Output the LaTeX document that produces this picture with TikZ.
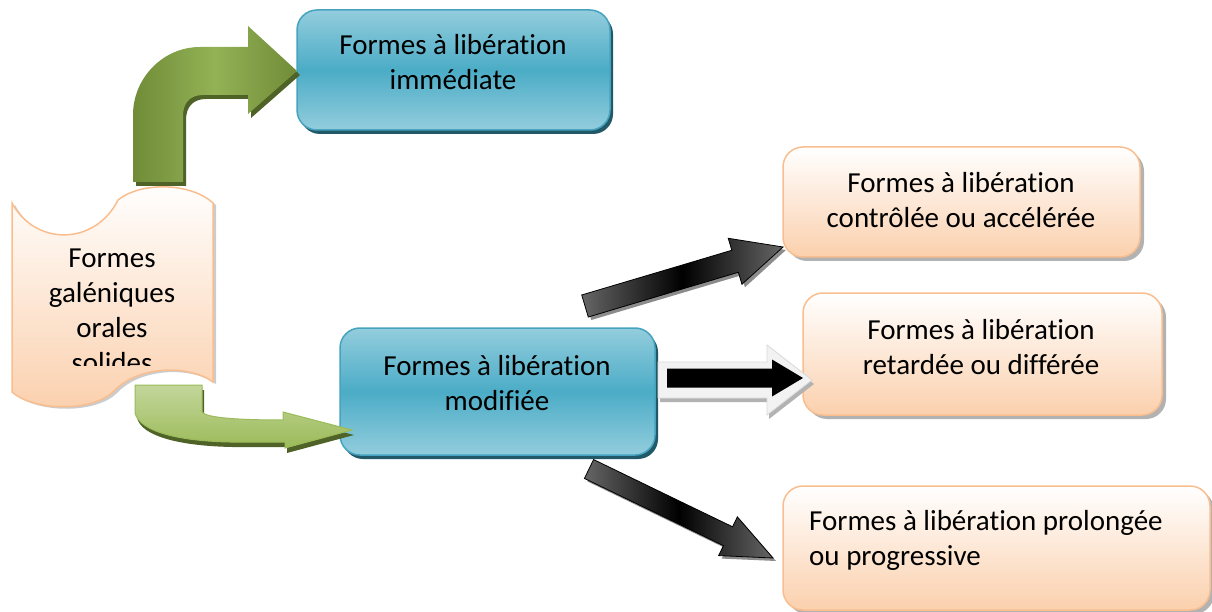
\documentclass[tikz,border=0pt]{standalone}
\usepackage{fontspec}
\setmainfont{Carlito}[Ligatures={NoCommon,NoDiscretionary,NoContextual}]
\usetikzlibrary{calc,shadows}
\definecolor{bluemid}{HTML}{4BACC6}
\definecolor{bluelight}{HTML}{93CDDD}
\definecolor{blueborder}{HTML}{46A3BF}
\definecolor{blueshadow}{HTML}{215968}
\definecolor{peach}{HTML}{FBD0AD}
\definecolor{peachborder}{HTML}{F9BE8F}
\definecolor{greendark}{HTML}{708C38}
\definecolor{greenmid}{HTML}{93B255}
\definecolor{greenlight}{HTML}{C3D69B}
\definecolor{greenbase}{HTML}{9BBB59}
\definecolor{greenshadow}{HTML}{4F6228}
\newcommand{\blockarr}[6]{%
  \coordinate (bh) at ($(#3)!#6pt!(#2)$);
  \path[#1] ($(#2)!#4pt!90:(#3)$) -- ($(bh)!#4pt!90:(#3)$) -- ($(bh)!#5pt!90:(#3)$) -- (#3)
    -- ($(bh)!#5pt!-90:(#3)$) -- ($(bh)!#4pt!-90:(#3)$) -- ($(#2)!#4pt!-90:(#3)$) -- cycle;}
\begin{document}
\begin{tikzpicture}[x=1pt,y=-1pt,
  bluebox/.style={rectangle, rounded corners=20pt, draw=blueborder, line width=1.5pt,
    top color=bluelight, bottom color=bluelight, middle color=bluemid, inner sep=0pt,
    drop shadow={shadow xshift=3pt, shadow yshift=-4pt, fill=blueshadow, opacity=1}},
  peachbox/.style={rectangle, rounded corners=20pt, draw=peachborder, line width=1.5pt,
    top color=white, bottom color=peach, inner sep=0pt,
    drop shadow={shadow xshift=4pt, shadow yshift=-4pt, fill=black!30, opacity=1}},
  txt/.style={font=\fontsize{29}{35}\selectfont, align=center, inner sep=0pt},
  blackarrow/.style={draw=black, line width=0.8pt, left color=black!60, right color=black!60, middle color=black},
  arrowshadow/.style={fill=black!45, transform canvas={shift={(3pt,-3pt)}}},
]
\useasboundingbox (0,0) rectangle (1212,612);

% ---- scroll shape (left)
\path[draw=peachborder, line width=1.5pt, top color=white, bottom color=peach,
  drop shadow={shadow xshift=3pt, shadow yshift=-2pt, fill=black!20, opacity=1}]
  (12,203) .. controls (35,246) and (95,246) .. (118,200)
  .. controls (140,182) and (190,182) .. (213,203)
  -- (213,382)
  .. controls (190,365) and (140,365) .. (115,390)
  .. controls (95,412) and (35,412) .. (12,392) -- cycle;
\begin{scope}
  \clip (0,180) rectangle (230,365);
  \node[txt] (scr) at (112,311) {Formes\\galéniques\\orales\\solides};
\end{scope}

% ---- boxes
\node[bluebox, minimum width=313pt, minimum height=120pt] (T1) at (453.5,70) {};
\node[txt] (t1) at (453,62) {Formes à libération\\immédiate};
\node[bluebox, minimum width=315pt, minimum height=127pt] (M) at (497.5,391.5) {};
\node[txt] (m) at (497,383) {Formes à libération\\modifiée};
\node[peachbox, minimum width=357pt, minimum height=110pt] (R1) at (961.5,202) {};
\node[txt] (r1) at (961,200) {Formes à libération\\contrôlée ou accélérée};
\node[peachbox, minimum width=359pt, minimum height=122pt] (R2) at (982.5,354) {};
\node[txt] (r2) at (981,347) {Formes à libération\\retardée ou différée};
\node[peachbox, minimum width=427pt, minimum height=124pt] (R3) at (996.5,548) {};
\node[txt, anchor=west, align=left] (r3) at (809,540) {Formes à libération prolongée\\ou progressive};

% ---- green bent arrow (top)
\path[fill=greenshadow, transform canvas={shift={(3pt,-4pt)}}]
  (133,182) -- (133,115) .. controls (133,78) and (163,47) .. (200,47) -- (248,47) -- (248,26)
  -- (297,71) -- (248,114) -- (248,95) -- (203,95) .. controls (190,95) and (183,103) .. (183,116)
  -- (183,182) -- cycle;
\path[left color=greendark, right color=greendark, middle color=greenmid]
  (133,182) -- (133,115) .. controls (133,78) and (163,47) .. (200,47) -- (248,47) -- (248,26)
  -- (297,71) -- (248,114) -- (248,95) -- (203,95) .. controls (190,95) and (183,103) .. (183,116)
  -- (183,182) -- cycle;

% ---- green bent arrow (bottom)
\path[fill=greenshadow, transform canvas={shift={(2pt,-5pt)}}]
  (135,385) -- (202,385) -- (202,412) .. controls (206,418) and (240,420) .. (283,420) -- (283,412)
  -- (352,430) -- (285,448) -- (285,442) -- (230,442) .. controls (180,441) and (140,432) .. (135,413) -- cycle;
\path[top color=greenlight, bottom color=greenbase, draw=greenbase, line width=1pt]
  (135,385) -- (202,385) -- (202,412) .. controls (206,418) and (240,420) .. (283,420) -- (283,412)
  -- (352,430) -- (285,448) -- (285,442) -- (230,442) .. controls (180,441) and (140,432) .. (135,413) -- cycle;

% ---- black arrows
\coordinate (a1s) at (585,306);
\coordinate (a1e) at (783,247);
\coordinate (a2s) at (667,378);
\coordinate (a2e) at (803,378);
\coordinate (a2os) at (658,380);
\coordinate (a2oe) at (812,380);
\coordinate (a3s) at (589,469);
\coordinate (a3e) at (773,558);

\blockarr{arrowshadow}{a1s}{a1e}{11.5}{24}{50}
\blockarr{blackarrow}{a1s}{a1e}{11.5}{24}{50}

\blockarr{fill=black!30, transform canvas={shift={(2pt,-4pt)}}}{a2os}{a2oe}{18}{35}{45}
\blockarr{fill=black!5, draw=black!15, line width=0.8pt}{a2os}{a2oe}{18}{35}{45}
\blockarr{fill=black}{a2s}{a2e}{9.5}{18.5}{31}

\blockarr{arrowshadow}{a3s}{a3e}{10.5}{21.5}{50}
\blockarr{blackarrow}{a3s}{a3e}{10.5}{21.5}{50}
\end{tikzpicture}
\end{document}
